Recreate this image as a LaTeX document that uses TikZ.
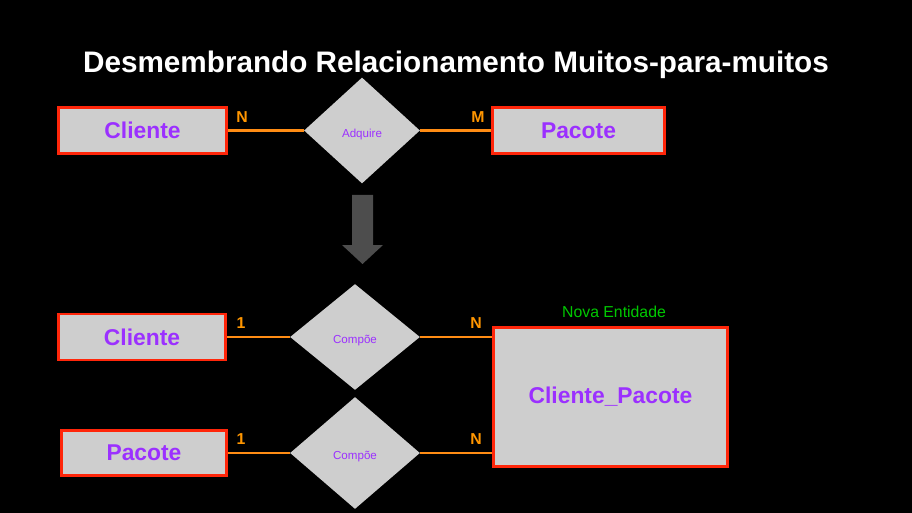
\documentclass[tikz,border=0pt]{standalone}
\usepackage{fontspec}
\setmainfont{Liberation Sans}
\usetikzlibrary{positioning}
\usetikzlibrary{shapes.geometric}
\definecolor{boxgray}{RGB}{206,206,206}
\definecolor{boxred}{RGB}{255,38,10}
\definecolor{entpurple}{RGB}{155,48,255}
\definecolor{cardorange}{RGB}{255,150,0}
\definecolor{lineorange}{RGB}{255,140,20}
\definecolor{newgreen}{RGB}{0,200,0}
\definecolor{arrowgray}{RGB}{77,77,77}
\newcommand{\reltext}[1]{\raisebox{-2pt}[5pt][1.5pt]{#1}}
\tikzset{
  box/.style      = { rectangle, inner sep=0pt },
  border/.style   = { line width=1.7pt, draw=boxred },
  entity/.style   = { box, border, fill=boxgray, text=entpurple,
                      font=\bfseries\fontsize{13}{15}\selectfont,
                      minimum width=3.36cm, minimum height=0.92cm },
  relation/.style = { diamond, fill=boxgray, text=entpurple, inner sep=0pt,
                      font=\fontsize{6.6}{8}\selectfont,
                      minimum width=2.6cm, minimum height=2.12cm },
  card/.style     = { text=cardorange, inner sep=0pt,
                      font=\bfseries\fontsize{9}{10}\selectfont },
  link/.style     = { line width=1.7pt, draw=lineorange },
}
\begin{document}
\begin{tikzpicture}[x=0.02cm,y=-0.02cm]
  \fill[black] (0,0) rectangle (912,513);
  \useasboundingbox (0,0) rectangle (912,513);

  \node (title) [text=white,font=\bfseries\fontsize{16.9}{19}\selectfont] at (456,65)
        {Desmembrando Relacionamento Muitos-para-muitos};

  % muitos-para-muitos
  \node (cli)  [entity] at (142.5,130.5) {Cliente};
  \node (adq)  [relation,minimum width=2.32cm] at (362,130.5) {\reltext{Adquire}};
  \node (pac)  [entity,minimum width=3.44cm] at (578.5,130.5) {Pacote};

  \draw [link] (cli) -- (adq);
  \draw [link] (adq) -- (pac);
  \node (cardn) [card] at (242,117.5) {N};
  \node (cardm) [card] at (478,117.5) {M};

  \fill [arrowgray] (352,195) -- (373,195) -- (373,245) -- (383,245)
        -- (362.5,264) -- (342,245) -- (352,245) -- cycle;

  % nova entidade
  \node (cli2) [entity] at (142,337) {Cliente};
  \node (pac2) [entity,minimum width=3.3cm,minimum height=0.9cm] at (144,453) {Pacote};
  \node (comp1) [relation] at (355,337) {\reltext{Compõe}};
  \node (comp2) [relation,minimum height=2.24cm] at (355,453) {\reltext{Compõe}};
  \node (clipac) [entity,minimum width=4.68cm,minimum height=2.78cm] at (610.5,397) {Cliente\_Pacote};
  \node (nova) [text=newgreen,font=\fontsize{9}{10}\selectfont] at (614,312) {Nova Entidade};

  \draw [link] (cli2) -- (comp1);
  \draw [link] (comp1) -- (comp1 -| clipac.west);
  \draw [link] (pac2) -- (comp2);
  \draw [link] (comp2) -- (comp2 -| clipac.west);
  \node (card1a) [card] at (241,323) {1};
  \node (cardna) [card] at (476,323) {N};
  \node (card1b) [card] at (241,439) {1};
  \node (cardnb) [card] at (476,439) {N};
\end{tikzpicture}
\end{document}
